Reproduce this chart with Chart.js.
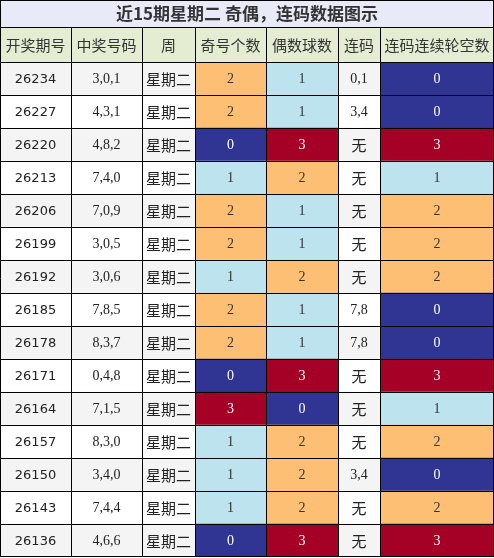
<!DOCTYPE html>
<html><head><meta charset="utf-8">
<script src="https://cdn.jsdelivr.net/npm/chart.js@4"></script>
<style>html,body{margin:0;padding:0;background:#fff}</style>
</head><body>
<canvas id="c" width="494" height="558"></canvas>
<script>
const title = '近15期星期二 奇偶，连码数据图示';
const headers = ['开奖期号','中奖号码','周','奇号个数','偶数球数','连码','连码连续轮空数'];
const issues = ['26234','26227','26220','26213','26206','26199','26192','26185','26178','26171','26164','26157','26150','26143','26136'];
const nums = ['3,0,1','4,3,1','4,8,2','7,4,0','7,0,9','3,0,5','3,0,6','7,8,5','8,3,7','0,4,8','7,1,5','8,3,0','3,4,0','7,4,4','4,6,6'];
const week = Array(15).fill('星期二');
const odd = [2,2,0,1,2,2,1,2,2,0,3,1,1,1,0];
const even = [1,1,3,2,1,1,2,1,1,3,0,2,2,2,3];
const lian = ['0,1','3,4','无','无','无','无','无','7,8','7,8','无','无','无','3,4','无','无'];
const gap = [0,0,3,1,2,2,2,0,0,3,1,2,0,2,3];

const colEdges = [0,71,142,195,266,338,380,494];
const valColor = {0:'#303593',1:'#bde3ee',2:'#fdbf73',3:'#a50026'};
const valText = {0:'#fff',1:'#333',2:'#333',3:'#fff'};
const rowBg = i => i%2===0 ? '#f4f4f4' : '#ffffff';
const columns = [issues, nums, week, odd, even, lian, gap];
const colored = [false,false,false,true,true,false,true];

const datasets = columns.map((col,ci)=>({
  label: headers[ci],
  data: col.map(()=>[colEdges[ci], colEdges[ci+1]]),
  backgroundColor: col.map((v,ri)=> colored[ci] ? valColor[v] : (ci===5 && v==='无' ? rowBg(ri) : rowBg(ri))),
  borderWidth: 0,
  barPercentage: 1, categoryPercentage: 1, grouped: false
}));

const tablePlugin = {
  id:'table',
  afterDatasetsDraw(chart){
    const ctx = chart.ctx, xs = chart.scales.x, area = chart.chartArea;
    const X = v => xs.getPixelForValue(v);
    // title
    ctx.save();
    ctx.fillStyle = '#e8eaf8'; ctx.fillRect(0,0,494,27);
    ctx.fillStyle = '#e4edd2'; ctx.fillRect(0,27,494,35);
    ctx.fillStyle = '#333'; ctx.textAlign='center'; ctx.textBaseline='middle';
    ctx.font = 'bold 17px "Noto Sans CJK SC", "Liberation Serif"';
    ctx.fillText(title, 247, 14);
    ctx.font = '15px "Noto Sans CJK SC"';
    headers.forEach((h,i)=> ctx.fillText(h, (X(colEdges[i])+X(colEdges[i+1]))/2, 45));
    // cell texts
    chart.data.datasets.forEach((ds,ci)=>{
      const meta = chart.getDatasetMeta(ci);
      meta.data.forEach((bar,ri)=>{
        const v = columns[ci][ri];
        const s = String(v);
        const cjk = /[\u4e00-\u9fff]/.test(s);
        ctx.font = cjk ? '15px "Noto Sans CJK SC"' : (ci===0 ? '13px "DejaVu Sans"' : '14px "Liberation Serif"');
        ctx.fillStyle = colored[ci] ? valText[v] : '#222';
        ctx.fillText(s, (X(colEdges[ci])+X(colEdges[ci+1]))/2, bar.y+1);
      });
    });
    // grid
    ctx.strokeStyle = '#000'; ctx.lineWidth = 1;
    ctx.beginPath();
    ctx.moveTo(0,0.5); ctx.lineTo(494,0.5);
    ctx.moveTo(0,27.5); ctx.lineTo(494,27.5);
    ctx.moveTo(0.5,0); ctx.lineTo(0.5,area.bottom); ctx.moveTo(493.5,0); ctx.lineTo(493.5,area.bottom);
    colEdges.slice(1,-1).forEach(e=>{ const x=Math.round(X(e))+0.5; ctx.moveTo(x,27); ctx.lineTo(x,area.bottom); });
    chart.getDatasetMeta(0).data.forEach(bar=>{ const y=Math.round(bar.y-bar.height/2)+0.5; ctx.moveTo(0,y); ctx.lineTo(494,y); });
    ctx.moveTo(0,Math.round(area.bottom)-0.5); ctx.lineTo(494,Math.round(area.bottom)-0.5);
    ctx.stroke();
    ctx.restore();
  }
};

new Chart(document.getElementById('c'), {
  type:'bar',
  data:{ labels: issues, datasets },
  options:{
    indexAxis:'y', responsive:false, animation:false,
    layout:{ padding:{ top:62, bottom:1, left:0, right:0 } },
    scales:{
      x:{ type:'linear', min:0, max:494, display:false },
      y:{ display:false }
    },
    plugins:{ legend:{display:false}, tooltip:{enabled:false}, title:{display:false} }
  },
  plugins:[tablePlugin]
});
</script>
</body></html>
